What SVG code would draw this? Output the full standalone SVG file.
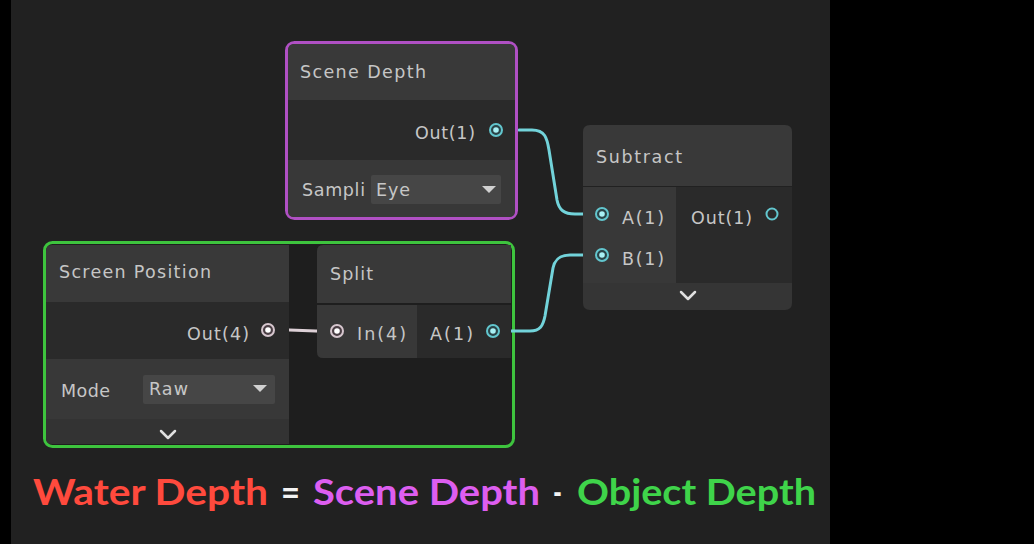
<svg xmlns="http://www.w3.org/2000/svg" width="1034" height="544" viewBox="0 0 1034 544">
<style>
.t{font-family:"DejaVu Sans","Liberation Sans",sans-serif;font-size:17.5px;fill:#c6c6c6}
.hd{fill:#393939}
.bd{fill:#2a2a2a}
.rw{fill:#383838}
.dd{fill:#464646}
.big{font-family:Lato,"Open Sans",sans-serif;font-weight:bold;font-size:37px}
.wire{fill:none;stroke:#72d3da;stroke-width:3;stroke-linecap:round}
.chev{fill:none;stroke:#e0e0e0;stroke-width:2.5;stroke-linecap:round;stroke-linejoin:round}
</style>
<defs>
<g id="pc"><circle r="6" fill="#2a4448" stroke="#62c6ce" stroke-width="2"/><circle r="2.8" fill="#a8f0f4"/></g>
<g id="pp"><circle r="6" fill="#4a3e44" stroke="#d6c6ce" stroke-width="2"/><circle r="2.8" fill="#ffffff"/></g>
</defs>
<rect width="1034" height="544" fill="#000"/>
<rect x="11" y="0" width="819" height="544" fill="#212121"/>

<g id="group-object">
<rect x="44.5" y="242.5" width="469" height="204" rx="8" fill="#1e1e1e" stroke="#3ec43e" stroke-width="3"/>
</g>

<g id="connectors">
<path d="M268,330 C295,329 310,332 337,331" fill="none" stroke="#ddd0d6" stroke-width="3"/>
<path d="M502,130 L520,130" fill="none" stroke="#5a8a8e" stroke-width="2"/>
<path class="wire" d="M519,130 L532,130 C545,130 547,138 549,150 L557,200 C559,210 564,214 575,214 L598,214"/>
<path class="wire" d="M499,331 L530,331 C540,331 543,326 545,316 L553,268 C555,259 560,255 570,255 L598,255"/>
</g>

<g id="scene-depth">
<rect x="286.5" y="42.5" width="230" height="176" rx="8" fill="#2a2a2a" stroke="#b050c4" stroke-width="3"/>
<path class="hd" d="M288,100 V50 Q288,44 294,44 H509 Q515,44 515,50 V100 Z"/>
<rect class="bd" x="288" y="100" width="227" height="60"/>
<path class="rw" d="M288,160 H515 V211 Q515,217 509,217 H294 Q288,217 288,211 Z"/>
<text class="t" x="300" y="78" textLength="126">Scene Depth</text>
<text class="t" x="415" y="139" textLength="60">Out(1)</text>
<use href="#pc" x="496" y="130"/>
<text class="t" x="302" y="196" textLength="63">Sampli</text>
<rect class="dd" x="371" y="175" width="130" height="29" rx="2"/>
<text class="t" x="376" y="196" textLength="34">Eye</text>
<path d="M482,186 H496 L489,193 Z" fill="#d0d0d0"/>
</g>

<g id="screen-position">
<path class="hd" d="M46,302 V251 Q46,245 52,245 H289 V302 Z"/>
<rect class="bd" x="46" y="302" width="243" height="57"/>
<rect class="rw" x="46" y="359" width="243" height="60"/>
<path d="M46,419 H289 V444 H52 Q46,444 46,438 Z" fill="#333"/>
<text class="t" x="59" y="278" textLength="152">Screen Position</text>
<text class="t" x="187" y="340" textLength="62">Out(4)</text>
<use href="#pp" x="268" y="330"/>
<text class="t" x="61" y="397" textLength="49">Mode</text>
<rect class="dd" x="143" y="375" width="132" height="29" rx="2"/>
<text class="t" x="149" y="395" textLength="39">Raw</text>
<path d="M253,385 H267 L260,392 Z" fill="#d0d0d0"/>
<path class="chev" d="M161,431 L168,438 L175,431"/>
</g>

<g id="split">
<path class="hd" d="M317,303 V251 Q317,245 323,245 H511 V303 Z"/>
<path class="rw" d="M317,305 H417 V358 H323 Q317,358 317,352 Z"/>
<rect class="bd" x="417" y="305" width="94" height="53"/>
<text class="t" x="330" y="280" textLength="43">Split</text>
<use href="#pp" x="337" y="331"/>
<text class="t" x="357" y="340" textLength="49">In(4)</text>
<text class="t" x="430" y="340" textLength="43">A(1)</text>
<use href="#pc" x="493" y="331"/>
</g>

<g id="subtract">
<path class="hd" d="M583,186 V132 Q583,125 590,125 H785 Q792,125 792,132 V186 Z"/>
<rect class="rw" x="583" y="187" width="93" height="96"/>
<rect class="bd" x="676" y="187" width="116" height="96"/>
<path d="M583,283 H792 V303 Q792,310 785,310 H590 Q583,310 583,303 Z" fill="#353535"/>
<text class="t" x="596" y="163" textLength="86">Subtract</text>
<use href="#pc" x="602" y="214"/>
<text class="t" x="622" y="224" textLength="42">A(1)</text>
<use href="#pc" x="602" y="255"/>
<text class="t" x="622" y="265" textLength="42">B(1)</text>
<text class="t" x="691" y="224" textLength="61">Out(1)</text>
<circle cx="772" cy="214" r="5.5" fill="#2a2a2a" stroke="#62c6ce" stroke-width="2"/>
<path class="chev" d="M681,292 L688,299 L695,292"/>
</g>

<g id="formula">
<text class="big" x="33" y="505" fill="#ff4a3d" textLength="235" lengthAdjust="spacingAndGlyphs">Water Depth</text>
<text class="big" x="281" y="505" fill="#f2f2f2" textLength="19" lengthAdjust="spacingAndGlyphs">=</text>
<text class="big" x="313" y="505" fill="#dd5ef0" textLength="227" lengthAdjust="spacingAndGlyphs">Scene Depth</text>
<text class="big" x="553" y="505" fill="#f2f2f2" textLength="9" lengthAdjust="spacingAndGlyphs">-</text>
<text class="big" x="577" y="505" fill="#3fd44a" textLength="239" lengthAdjust="spacingAndGlyphs">Object Depth</text>
</g>
</svg>
